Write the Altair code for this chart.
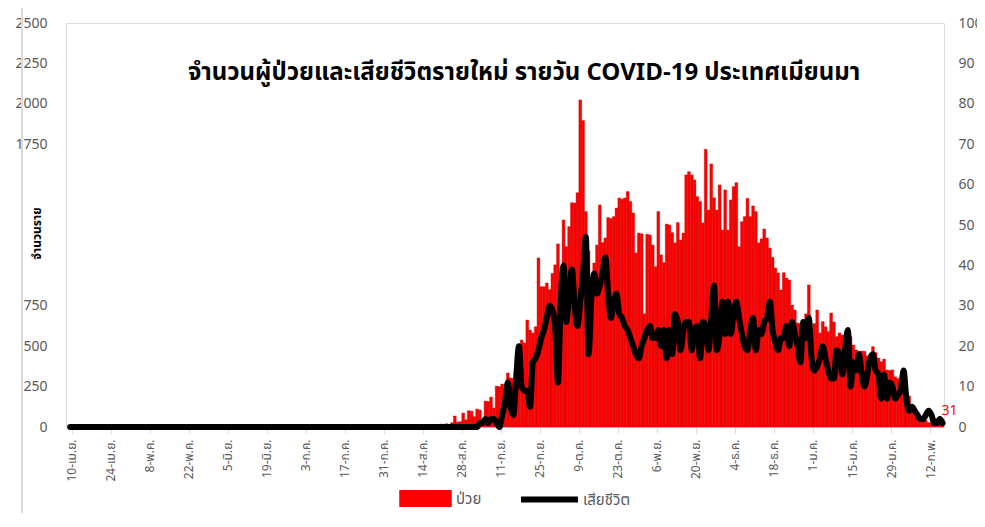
import json
import pandas as pd
import altair as alt

# ---------------- data ----------------
title_text = "จำนวนผู้ป่วยและเสียชีวิตรายใหม่ รายวัน COVID-19 ประเทศเมียนมา"
y_title = "จำนวนราย"
series_cases = "ป่วย"
series_deaths = "เสียชีวิต"

# one tick every 14 days, first tick is day index 1 (10 Apr)
tick_labels = ["10-เม.ย.", "24-เม.ย.", "8-พ.ค.", "22-พ.ค.", "5-มิ.ย.", "19-มิ.ย.",
               "3-ก.ค.", "17-ก.ค.", "31-ก.ค.", "14-ส.ค.", "28-ส.ค.", "11-ก.ย.",
               "25-ก.ย.", "9-ต.ค.", "23-ต.ค.", "6-พ.ย.", "20-พ.ย.", "4-ธ.ค.",
               "18-ธ.ค.", "1-ม.ค.", "15-ม.ค.", "29-ม.ค.", "12-ก.พ."]

# daily new cases, day index 0 = 9 Apr
cases = [
    0, 0, 3, 5, 12, 6, 2, 0, 0, 3, 0, 0, 0, 2, 0, 0, 0, 0, 0, 0,
    0, 0, 0, 0, 0, 0, 0, 0, 6, 3, 0, 0, 0, 0, 0, 0, 0, 0, 0, 0,
    0, 0, 0, 0, 0, 0, 0, 0, 0, 0, 0, 8, 2, 0, 0, 0, 0, 0, 0, 0,
    0, 0, 0, 0, 0, 0, 0, 0, 0, 0, 0, 15, 5, 0, 0, 0, 0, 0, 0, 0,
    0, 0, 0, 0, 0, 0, 0, 0, 0, 0, 3, 0, 0, 0, 0, 0, 0, 0, 0, 0,
    0, 0, 0, 0, 0, 0, 0, 0, 0, 0, 4, 0, 0, 0, 0, 5, 0, 0, 6, 0,
    4, 0, 8, 3, 6, 10,
    8, 10, 7, 12, 10, 14, 9, 18, 16, 20, 15, 27, 68, 30, 33, 86, 45, 101, 98, 64,
    111, 105, 45, 160, 158, 185, 117, 253, 250, 266, 126, 334, 303, 300, 167, 404, 538, 520, 662, 600,
    582, 620, 1046, 868, 868, 891, 850, 950, 1003, 1133, 848, 1281, 1116, 1240, 1388, 1386, 1450, 2024, 1896, 1333,
    1090, 860, 1015, 1126, 1374, 1141, 1170, 1296, 1290, 1302, 1355, 1417, 1410, 1417, 1457, 1395, 1324, 1077, 1200, 1195,
    700, 1193, 1188, 1126, 992, 1333, 1065, 1017, 1256, 1250, 1203, 1139, 1265, 1157, 1200, 1560, 1580, 1560, 1529, 1425,
    1395, 1263, 1719, 1343, 1628, 1418, 1343, 1498, 1219, 1467, 1219, 1405, 1487, 1512, 1116, 1271, 1302, 1415, 1302, 1368,
    1333, 1139, 1164, 1225, 1170, 1108, 1050, 984, 953, 848, 955, 922, 910, 755, 724, 644, 640, 644, 700, 879,
    569, 640, 724, 582, 652, 620, 590, 705, 650, 559, 582, 569, 507, 600, 560, 507, 477, 468, 470, 468,
    440, 435, 497, 460, 427, 404, 420, 353, 350, 353, 311, 300, 250, 240, 230, 192, 126, 95, 86, 64,
    49, 40, 27, 25, 12, 15, 20, 31,
]

# daily deaths, same days
deaths = [
    0, 0, 0, 0, 0, 0, 0, 0, 0, 0, 0, 0, 0, 0, 0, 0, 0, 0, 0, 0,
    0, 0, 0, 0, 0, 0, 0, 0, 0, 0, 0, 0, 0, 0, 0, 0, 0, 0, 0, 0,
    0, 0, 0, 0, 0, 0, 0, 0, 0, 0, 0, 0, 0, 0, 0, 0, 0, 0, 0, 0,
    0, 0, 0, 0, 0, 0, 0, 0, 0, 0, 0, 0, 0, 0, 0, 0, 0, 0, 0, 0,
    0, 0, 0, 0, 0, 0, 0, 0, 0, 0, 0, 0, 0, 0, 0, 0, 0, 0, 0, 0,
    0, 0, 0, 0, 0, 0, 0, 0, 0, 0, 0, 0, 0, 0, 0, 0, 0, 0, 0, 0,
    0, 0, 0, 0, 0, 0, 0, 0, 0, 0, 0, 0, 0, 0, 0, 0, 0, 0, 0, 0,
    0, 0, 0, 0, 0, 0,
    0, 1, 1, 2, 1, 2, 2, 1, 0, 3, 6, 11, 5, 3, 12, 20, 10, 9, 9, 5,
    16, 17, 19, 22, 24, 27, 30, 29, 25, 11, 31, 40, 26, 33, 39, 30, 25, 31, 38, 47,
    18, 32, 38, 33, 35, 38, 42, 33, 27, 31, 33, 28, 27, 25, 24, 22, 20, 18, 17, 20,
    22, 24, 25, 22, 22, 24, 20, 24, 17, 24, 18, 28, 26, 19, 24, 26, 26, 19, 24, 25,
    17, 26, 25, 19, 27, 35, 19, 23, 31, 23, 31, 23, 28, 31, 27, 23, 20, 19, 24, 27,
    19, 24, 23, 26, 27, 31, 24, 21, 19, 22, 22, 25, 20, 26, 23, 20, 16, 26, 22, 27,
    17, 14, 15, 17, 20, 17, 14, 12, 12, 19, 18, 13, 19, 24, 10, 16, 14, 18, 13, 10,
    13, 17, 18, 14, 13, 7, 13, 7, 11, 10, 7, 8, 9, 14, 7, 4, 5, 4, 3, 2,
    2, 3, 4, 3, 1, 1, 2, 1,
]

cases_ticks = [0, 250, 500, 750, 1000, 1250, 1500, 1750, 2000, 2250, 2500]
deaths_ticks = [0, 10, 20, 30, 40, 50, 60, 70, 80, 90, 100]

# ---------------- table ----------------
n = len(cases)
df = pd.DataFrame({
    "day": list(range(n)),
    "cases": cases,
    "deaths": deaths,
})
df["day_end"] = df["day"] + 1
df["mid"] = df["day"] + 0.5
df["s_cases"] = series_cases
df["s_deaths"] = series_deaths
df["last_label"] = df["cases"].astype(str)

FONT = "Tahoma, 'Noto Sans Thai', 'Liberation Sans', 'Noto Sans', sans-serif"
GREY = "#595959"

x_scale = alt.Scale(domain=[-1, n], nice=False, zero=False)
tick_values = [1 + 14 * i for i in range(len(tick_labels))]
x_axis = alt.Axis(
    values=tick_values,
    labelExpr=json.dumps(tick_labels, ensure_ascii=False) + "[round((datum.value - 1) / 14)]",
    labelAngle=-90, labelFontSize=12, labelColor=GREY, labelFont=FONT,
    labelPadding=6, tickSize=6, tickColor="#D9D9D9", domainColor="#D9D9D9",
    grid=False, title=None, labelOverlap=False,
)

cases_scale = alt.Scale(domain=[0, 2500], nice=False)
y_left = alt.Y(
    "cases:Q",
    scale=cases_scale,
    axis=alt.Axis(
        values=cases_ticks, format="d",
        labelExpr="(datum.value >= 1000 && datum.value <= 1500) ? '' : datum.label",
        domain=False, ticks=False, grid=False,
        labelPadding=19, labelFontSize=14, labelColor=GREY, labelFont=FONT,
        title=y_title, titleFont=FONT, titleFontSize=12, titleFontWeight="bold",
        titleColor="black", titleX=-30, titleY=210, titleAlign="center",
        titleBaseline="middle",
    ),
)

y_right = alt.Y(
    "deaths:Q",
    scale=alt.Scale(domain=[0, 100], nice=False),
    axis=alt.Axis(
        orient="right", values=deaths_ticks, format="d",
        domain=False, ticks=False, grid=False,
        labelPadding=14, labelFontSize=14, labelColor=GREY, labelFont=FONT,
        title=None,
    ),
)

base = alt.Chart(df)

bars = base.mark_bar(stroke="#C00000", strokeWidth=0.4).encode(
    x=alt.X("day:Q", scale=x_scale, axis=x_axis),
    x2="day_end:Q",
    y=y_left,
    y2=alt.datum(0),
    fill=alt.Fill(
        "s_cases:N",
        scale=alt.Scale(domain=[series_cases], range=["#FF0000"]),
        legend=alt.Legend(
            orient="none", legendX=333, legendY=449, title=None,
            symbolType="M-1,-0.3H1V0.3H-1Z", symbolSize=2601,
            symbolStrokeColor="#FF0000", symbolStrokeWidth=1.5,
            labelFontSize=15, labelColor=GREY, labelFont=FONT, labelOffset=4,
        ),
    ),
)

last_label = base.transform_filter(alt.datum.day == n - 1).mark_text(
    color="#FF0000", fontSize=14, font=FONT, dx=7, dy=-11, baseline="middle",
).encode(
    x=alt.X("mid:Q", scale=x_scale, axis=x_axis),
    y=y_left,
    text="last_label:N",
)

line = base.mark_line(
    color="black", strokeWidth=6, interpolate="monotone",
    strokeCap="round", strokeJoin="round",
).encode(
    x=alt.X("mid:Q", scale=x_scale, axis=x_axis),
    y=y_right,
    stroke=alt.Stroke(
        "s_deaths:N",
        scale=alt.Scale(domain=[series_deaths], range=["black"]),
        legend=alt.Legend(
            orient="none", legendX=452, legendY=445, title=None,
            symbolType="stroke", symbolSize=3249, symbolStrokeWidth=6,
            labelFontSize=15, labelColor=GREY, labelFont=FONT, labelOffset=2,
        ),
    ),
)

title_layer = alt.Chart(pd.DataFrame({"t": [title_text]})).mark_text(
    fontSize=24, fontWeight="bold", font=FONT, color="black",
    align="center", baseline="middle",
).encode(text="t:N", x=alt.value(458), y=alt.value(50))

left_border = alt.Chart(pd.DataFrame({"t": [0]})).mark_rule(
    color="#D9D9D9", strokeWidth=2,
).encode(x=alt.value(-44), y=alt.value(-15), y2=alt.value(500))

chart = alt.layer(
    alt.layer(bars, last_label),
    line,
    title_layer,
    left_border,
).resolve_scale(y="independent").properties(
    width=878, height=404,
    autosize=alt.AutoSizeParams(type="none"),
    padding={"left": 58, "top": 15, "right": 33, "bottom": 86},
).configure_view(stroke=None).configure(background="white")

chart.save("out.html", embed_options={"renderer": "svg", "actions": False})
